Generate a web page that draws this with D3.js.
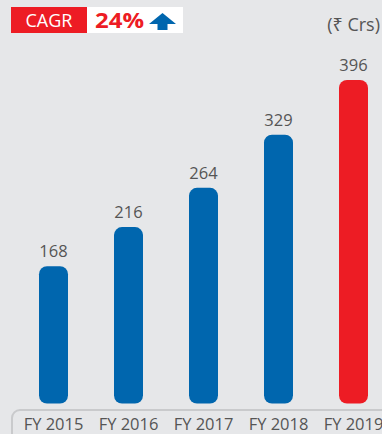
<!DOCTYPE html>
<html><head><meta charset="utf-8">
<script src="https://cdn.jsdelivr.net/npm/d3@7"></script>
<style>html,body{margin:0;padding:0;background:#e6e7e9;overflow:hidden}</style>
</head><body>
<svg id="c" width="382" height="434"></svg>
<script>
const categories = ["FY 2015","FY 2016","FY 2017","FY 2018","FY 2019"];
const values = [168, 216, 264, 329, 396];
const highlight = [false,false,false,false,true];
const cagrLabel = "CAGR";
const cagrValue = "24%";
const unitLabel = "(₹ Crs)";

const svg = d3.select("#c");
const font = "'Open Sans', 'Noto Sans', sans-serif";
const blue = "#0066ae", red = "#ed1c24", grey = "#555";

const x = d3.scaleBand().domain(categories).range([39, 368]).paddingInner(46/75).paddingOuter(0);
const y = d3.scaleLinear().domain([0, 396]).range([403.5, 80]);

// axis frame
svg.append("rect").attr("x", 12).attr("y", 410).attr("width", 420).attr("height", 60)
  .attr("rx", 8).attr("fill", "none").attr("stroke", "#c9cacc").attr("stroke-width", 2);

// bars
svg.selectAll("rect.bar").data(values).join("rect").attr("class","bar")
  .attr("x", (d,i) => x(categories[i]))
  .attr("y", d => y(d))
  .attr("width", x.bandwidth())
  .attr("height", d => y(0) - y(d))
  .attr("rx", 8)
  .attr("fill", (d,i) => highlight[i] ? red : blue);

// value labels
svg.selectAll("text.val").data(values).join("text").attr("class","val")
  .attr("x", (d,i) => x(categories[i]) + x.bandwidth()/2)
  .attr("y", d => y(d) - 9)
  .attr("text-anchor","middle")
  .attr("font-family", font).attr("font-size", 16.5).attr("fill", grey)
  .text(d => d);

// x axis labels
const ax = svg.append("g").attr("transform","translate(0,414)")
  .call(d3.axisBottom(x).tickSize(0).tickPadding(0));
ax.select(".domain").remove();
ax.selectAll("text").attr("font-family", font).attr("font-size", 16.5).attr("fill", grey)
  .attr("dy", "0.95em");

// CAGR badge
svg.append("rect").attr("x", 11).attr("y", 7).attr("width", 172).attr("height", 26).attr("fill", "#fff");
svg.append("rect").attr("x", 11).attr("y", 7).attr("width", 76).attr("height", 26).attr("fill", red);
svg.append("text").attr("x", 49).attr("y", 27).attr("text-anchor","middle")
  .attr("font-family", font).attr("font-size", 18).attr("fill", "#fff").text(cagrLabel);
svg.append("text").attr("x", 95).attr("y", 28)
  .attr("font-family", font).attr("font-size", 21.5).attr("font-weight", "bold").attr("fill", red)
  .attr("textLength", 49).attr("lengthAdjust", "spacingAndGlyphs").text(cagrValue);
// arrow
svg.append("path").attr("d", "M149,24 L162.5,13 L176,24 L167.5,24 L167.5,30 L157.5,30 L157.5,24 Z").attr("fill", blue);

// unit
svg.append("text").attr("x", 380).attr("y", 31).attr("text-anchor","end")
  .attr("font-family", font).attr("font-size", 18).attr("fill", grey).text(unitLabel);
</script>
</body></html>
